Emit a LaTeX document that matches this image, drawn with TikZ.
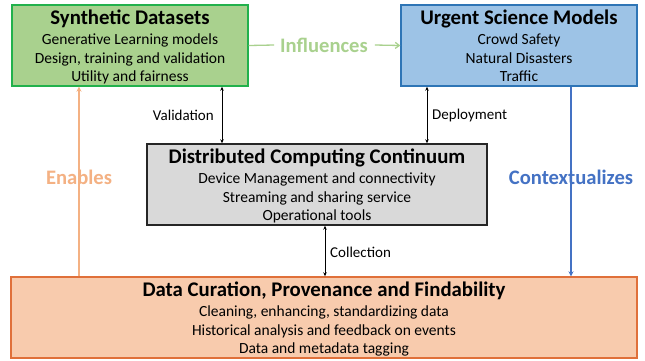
\documentclass[tikz,border=0pt]{standalone}
\usepackage{fontspec}
\setmainfont{Carlito}
\usetikzlibrary{arrows.meta}
\definecolor{gfill}{HTML}{A9D18E}
\definecolor{gdraw}{HTML}{22B14C}
\definecolor{bfill}{HTML}{9DC3E6}
\definecolor{bdraw}{HTML}{2E75B6}
\definecolor{kfill}{HTML}{D9D9D9}
\definecolor{kdraw}{HTML}{262626}
\definecolor{ofill}{HTML}{F8CBAD}
\definecolor{odraw}{HTML}{E0703A}
\definecolor{inflc}{HTML}{A9D18E}
\definecolor{enabc}{HTML}{F4B183}
\definecolor{contc}{HTML}{4472C4}
\newcommand\titlef{\bfseries\fontsize{20.8}{22}\selectfont}
\newcommand\bodyf{\fontsize{15.5}{18.5}\selectfont}
\newcommand\lblf{\bfseries\fontsize{20.6}{22}\selectfont}
\newcommand\smlf{\fontsize{15}{18}\selectfont}
\newcommand\tstrut{\rule{0pt}{16pt}}
\begin{document}
\begin{tikzpicture}[x=1pt,y=-1pt,
  box/.style={draw, line width=1.4pt, rectangle, inner sep=0pt, minimum height=81pt},
  boxtext/.style={align=center, inner sep=0pt, font=\bodyf, anchor=north, yshift=-3.5pt},
  flow/.style={line width=1.3pt},
  biarrow/.style={line width=0.8pt, {Stealth[length=4pt,width=3.5pt]}-{Stealth[length=4pt,width=3.5pt]}},
  lbl/.style={font=\lblf, inner sep=0pt},
  sml/.style={font=\smlf, inner sep=0pt}]
\useasboundingbox (0,0) rectangle (645,360);
\fill[white] (0,0) rectangle (645,360);

\node[box, fill=gfill, draw=gdraw, minimum width=236pt] (syn) at (130,45.5) {};
\node[box, fill=bfill, draw=bdraw, minimum width=236pt] (usm) at (519,45.5) {};
\node[box, fill=kfill, draw=kdraw, minimum width=340pt] (dcc) at (317,184.5) {};
\node[box, fill=ofill, draw=odraw, minimum width=626pt] (cur) at (324,317.5) {};

\node[boxtext] (synt) at (syn.north)
  {{\titlef\tstrut Synthetic Datasets}\\[2pt] Generative Learning models\\ Design, training and validation\\ Utility and fairness};
\node[boxtext] (usmt) at (usm.north)
  {{\titlef\tstrut Urgent Science Models}\\[2pt] Crowd Safety\\ Natural Disasters\\ Traffic};
\node[boxtext] (dcct) at (dcc.north)
  {{\titlef\tstrut Distributed Computing Continuum}\\[2pt] Device Management and connectivity\\ Streaming and sharing service\\ Operational tools};
\node[boxtext] (curt) at (cur.north)
  {{\titlef\tstrut Data Curation, Provenance and Findability}\\[2pt] Cleaning, enhancing, standardizing data\\ Historical analysis and feedback on events\\ Data and metadata tagging};

% labels
\node[lbl, text=inflc] (infl) at (324,45) {Influences};
\node[lbl, text=enabc] (enab) at (79,177) {Enables};
\node[lbl, text=contc] (cont) at (571,177) {Contextualizes};

% influences
\draw[flow, draw=inflc] (syn.east) -- ([xshift=-6pt]infl.west);
\draw[flow, draw=inflc, -{Straight Barb[length=4pt,width=6pt]}] ([xshift=7pt]infl.east) -- (usm.west);
% enables
\draw[flow, draw=enabc] (cur.north -| enab) -- ([yshift=8pt]enab.south);
\draw[flow, draw=enabc, -{Stealth[length=5pt,width=5pt]}] ([yshift=-8pt]enab.north) -- (syn.south -| enab);
% contextualizes
\draw[flow, draw=contc] (usm.south -| cont) -- ([yshift=-8pt]cont.north);
\draw[flow, draw=contc, -{Stealth[length=5pt,width=5pt]}] ([yshift=8pt]cont.south) -- (cur.north -| cont);

% black double arrows
\coordinate (va) at (222,0);
\coordinate (da) at (427,0);
\coordinate (ca) at (325,0);
\draw[biarrow] (syn.south -| va) -- (dcc.north -| va);
\draw[biarrow] (usm.south -| da) -- (dcc.north -| da);
\draw[biarrow] (dcc.south -| ca) -- (cur.north -| ca);
\node[sml, anchor=east] (vlab) at (214,115) {Validation};
\node[sml, anchor=west] (dlab) at (432,115) {Deployment};
\node[sml, anchor=west] (clab) at (330,252) {Collection};
\end{tikzpicture}
\end{document}
